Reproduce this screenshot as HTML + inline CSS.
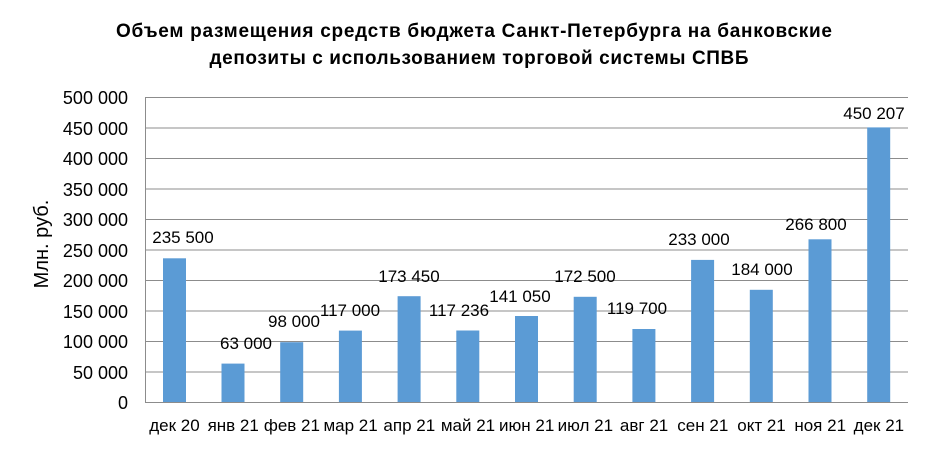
<!DOCTYPE html>
<html><head><meta charset="utf-8"><style>body{margin:0;background:#fff}svg{display:block}text{font-family:"Liberation Sans","DejaVu Sans",sans-serif}</style></head><body>
<svg width="930" height="450" xmlns="http://www.w3.org/2000/svg">
<text x="474" y="37" font-size="19" font-weight="bold" text-anchor="middle" fill="#000" textLength="716">Объем размещения средств бюджета Санкт-Петербурга на  банковские</text>
<text x="479" y="64" font-size="19" font-weight="bold" text-anchor="middle" fill="#000" textLength="539">депозиты с использованием торговой системы СПВБ</text>
<g stroke="#8c8c8c" stroke-width="1">
<line x1="145" y1="97.5" x2="908" y2="97.5"/><line x1="145" y1="128" x2="908" y2="128"/><line x1="145" y1="158.5" x2="908" y2="158.5"/><line x1="145" y1="189" x2="908" y2="189"/><line x1="145" y1="219.5" x2="908" y2="219.5"/><line x1="145" y1="250" x2="908" y2="250"/><line x1="145" y1="280.5" x2="908" y2="280.5"/><line x1="145" y1="311" x2="908" y2="311"/><line x1="145" y1="341.5" x2="908" y2="341.5"/><line x1="145" y1="372" x2="908" y2="372"/><line x1="145" y1="402.5" x2="908" y2="402.5"/><line x1="145.5" y1="97" x2="145.5" y2="403"/>
</g>
<g font-size="18" text-anchor="end" fill="#000">
<text x="128" y="104">500 000</text><text x="128" y="135">450 000</text><text x="128" y="165">400 000</text><text x="128" y="196">350 000</text><text x="128" y="226">300 000</text><text x="128" y="257">250 000</text><text x="128" y="287">200 000</text><text x="128" y="318">150 000</text><text x="128" y="348">100 000</text><text x="128" y="379">50 000</text><text x="128" y="409">0</text>
</g>
<text transform="translate(48,244) rotate(-90)" font-size="20" text-anchor="middle">Млн. руб.</text>
<g fill="#5b9bd5">
<rect x="163" y="258.3" width="23" height="143.7"/>
<rect x="221.5" y="363.6" width="23" height="38.4"/>
<rect x="280.2" y="342.2" width="23" height="59.8"/>
<rect x="338.9" y="330.6" width="23" height="71.4"/>
<rect x="397.6" y="296.2" width="23" height="105.8"/>
<rect x="456.3" y="330.5" width="23" height="71.5"/>
<rect x="515" y="316" width="23" height="86"/>
<rect x="573.7" y="296.8" width="23" height="105.2"/>
<rect x="632.4" y="329" width="23" height="73"/>
<rect x="691.1" y="259.9" width="23" height="142.1"/>
<rect x="749.8" y="289.8" width="23" height="112.2"/>
<rect x="808.5" y="239.3" width="23" height="162.7"/>
<rect x="867.2" y="127.4" width="23" height="274.6"/>
</g>
<g font-size="17" text-anchor="middle" fill="#000">
<text x="183" y="243">235 500</text>
<text x="246" y="349">63 000</text>
<text x="294" y="327">98 000</text>
<text x="350" y="316">117 000</text>
<text x="409" y="282">173 450</text>
<text x="459" y="316">117 236</text>
<text x="520" y="302">141 050</text>
<text x="585" y="282">172 500</text>
<text x="637" y="314">119 700</text>
<text x="699" y="245">233 000</text>
<text x="762" y="275">184 000</text>
<text x="816" y="230">266 800</text>
<text x="874" y="119">450 207</text>
</g>
<g font-size="17" text-anchor="middle" fill="#000">
<text x="174.5" y="431">дек 20</text><text x="233.2" y="431">янв 21</text><text x="291.9" y="431">фев 21</text><text x="350.6" y="431">мар 21</text><text x="409.3" y="431">апр 21</text><text x="468" y="431">май 21</text><text x="526.7" y="431">июн 21</text><text x="585.4" y="431">июл 21</text><text x="644.1" y="431">авг 21</text><text x="702.8" y="431">сен 21</text><text x="761.5" y="431">окт 21</text><text x="820.2" y="431">ноя 21</text><text x="878.9" y="431">дек 21</text>
</g>
</svg>
</body></html>
